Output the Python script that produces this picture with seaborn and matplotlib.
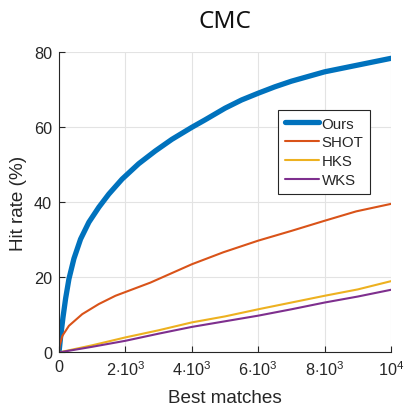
import numpy as np
import pandas as pd
import matplotlib
matplotlib.use("Agg")
import matplotlib.pyplot as plt
import seaborn as sns

sns.set_theme(style="white")
plt.rcParams['font.family'] = ['Liberation Sans', 'DejaVu Sans']
plt.rcParams['mathtext.fontset'] = 'custom'
plt.rcParams['mathtext.rm'] = 'Liberation Sans'

# values
ours_x = [0, 50, 120, 200, 300, 450, 650, 900, 1200, 1500, 1900, 2400, 2900, 3400, 4000, 4400, 5000, 5500, 6000, 6500, 7000, 8000, 9000, 10000]
ours_y = [0, 4.2, 9.3, 14.4, 19.6, 25.0, 30.2, 34.7, 38.7, 42.2, 46.2, 50.3, 53.7, 56.8, 60.0, 62.0, 65.1, 67.3, 69.1, 70.8, 72.3, 74.8, 76.6, 78.4]
shot_x = [0, 20, 100, 300, 700, 1200, 1700, 2300, 2750, 4000, 4950, 6000, 7000, 8000, 8950, 10000]
shot_y = [0, 1.8, 4.4, 7.1, 10.2, 12.9, 15.1, 17.1, 18.6, 23.5, 26.7, 29.8, 32.4, 35.1, 37.6, 39.6]
hks_x = [0, 1000, 2000, 3000, 4000, 5000, 6000, 7000, 8000, 9000, 10000]
hks_y = [0, 1.9, 4.0, 5.9, 8.0, 9.6, 11.5, 13.3, 15.1, 16.8, 19.0]
wks_x = [0, 1000, 2000, 3000, 4000, 5000, 6000, 7000, 8000, 9000, 10000]
wks_y = [0, 1.5, 3.1, 5.0, 6.8, 8.3, 9.8, 11.5, 13.3, 14.9, 16.7]

names = ['Ours', 'SHOT', 'HKS', 'WKS']
colors = ['#0072BD', '#D95319', '#EDB120', '#7E2F8E']

frames = []
for name, xs, ys in zip(names, [ours_x, shot_x, hks_x, wks_x], [ours_y, shot_y, hks_y, wks_y]):
    frames.append(pd.DataFrame({'matches': xs, 'rate': ys, 'method': name}))
df = pd.concat(frames, ignore_index=True)

fig = plt.figure(figsize=(4.04, 4.10), dpi=100)
ax = fig.add_axes([0.146, 0.138, 0.822, 0.732])

sns.lineplot(data=df, x='matches', y='rate', hue='method', size='method',
             sizes={'Ours': 3.8, 'SHOT': 1.5, 'HKS': 1.5, 'WKS': 1.5},
             palette=dict(zip(names, colors)), hue_order=names, ax=ax,
             estimator=None, sort=False)

ax.set_xlim(0, 10000)
ax.set_ylim(0, 80)
ax.set_xticks([0, 2000, 4000, 6000, 8000, 10000])
ax.set_xticklabels(['0', r'$2{\cdot}10^3$', r'$4{\cdot}10^3$', r'$6{\cdot}10^3$',
                    r'$8{\cdot}10^3$', r'$10^4$'])
ax.set_yticks([0, 20, 40, 60, 80])
ax.grid(True, color='#e3e3e3', linewidth=0.8)
ax.set_axisbelow(True)
for s in ['top', 'right']:
    ax.spines[s].set_visible(False)
for s in ['left', 'bottom']:
    ax.spines[s].set_color('#262626')
    ax.spines[s].set_linewidth(0.8)
ax.tick_params(direction='in', length=4, width=0.8, color='#262626',
               labelsize=11.7, labelcolor='#262626', left=True, bottom=True, pad=5)

ax.set_xlabel('Best matches', fontsize=13.6, color='#262626', labelpad=8)
ax.set_ylabel('Hit rate (%)', fontsize=13.6, color='#262626', labelpad=5)
ax.set_title('CMC', fontsize=17.5, family=['Noto Sans', 'DejaVu Sans'], pad=18, color='#111111')

handles, labels = ax.get_legend_handles_labels()
leg = ax.legend(handles, labels, loc='upper right', bbox_to_anchor=(0.937, 0.808),
                borderaxespad=0, fontsize=10.8, handlelength=2.3, handletextpad=0.15,
                labelspacing=0.32, borderpad=0.45, fancybox=False, framealpha=1,
                edgecolor='#262626')
leg.get_frame().set_linewidth(0.8)

fig.savefig('out.png', dpi=100)
